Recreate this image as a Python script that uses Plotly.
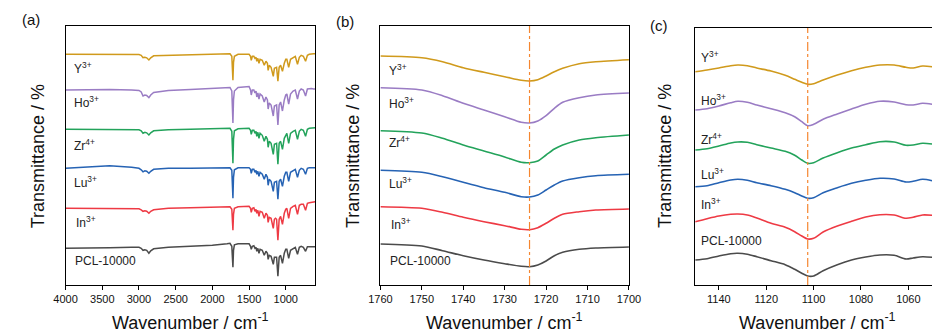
import plotly.graph_objects as go

W, H = 946, 332

names = ["Y<sup>3+</sup>", "Ho<sup>3+</sup>", "Zr<sup>4+</sup>", "Lu<sup>3+</sup>", "In<sup>3+</sup>", "PCL-10000"]
colors = ["#D09A1C", "#9A7CC4", "#23A35B", "#2663B4", "#EE3A44", "#4B4B4B"]

# ---------------- panel (a): full spectra (relative transmittance, arbitrary units) ----------------
wn_a = [4000, 3700, 3400, 3100, 3000, 2970, 2945, 2920, 2895, 2865, 2840, 2800, 2600, 2300, 2000,
        1800, 1760, 1735, 1725, 1720, 1712, 1700, 1650, 1550, 1500, 1480, 1470, 1455, 1435, 1420,
        1405, 1395, 1380, 1365, 1350, 1320, 1293, 1270, 1250, 1240, 1225, 1200, 1185, 1170, 1155,
        1140, 1125, 1107, 1090, 1070, 1045, 1020, 1000, 985, 960, 935, 900, 870, 840, 815,
        790, 760, 730, 705, 680, 650, 620, 600]

a_Y = [0, 0, 0, 0, -0.3, -1, -3.3, -3, -3.5, -5.7, -3.5, -1.5, -1, -0.5, 0,
       0.5, 0.5, -2, -18, -26, -8, -2, 0, 0.5, 0, -2, -6, -2, -2, -4,
       -3, -7, -4, -9, -5, -6, -11, -7, -9, -16, -11, -13, -18, -22, -14,
       -13, -13, -27, -13, -11, -17, -9, -5, -5, -13, -5, -3, -2, -10, -3,
       -1, -2, -7, -1, 0, 0.5, 0.5, 0.5]
a_Ho = [0, 0.5, 0.5, 0, -0.5, -2, -6, -5, -5.5, -7.7, -5, -2.5, -0.5, 0.5, 1.5,
        2.5, 2.5, -1, -22, -33, -10, -1, 2.5, 3.5, 3.5, 0, -5, 0, 0, -3,
        -1, -7, -3, -9, -4, -6, -12, -7, -10, -19, -13, -15, -21, -26, -16,
        -15, -15, -35, -15, -12, -21, -10, -5, -4, -14, -4, -1, 0, -9, -1,
        1, 0, -6, 1, 1.5, 1.5, 1, 1]
a_Zr = [0, 0, 0, 0, -0.5, -1.5, -4, -3, -3.5, -5.7, -3.5, -1.5, -0.5, 0, 0.5,
        1, 1, -2, -23, -34, -10, -1.5, 0.5, 1, 1, -1, -5, -1, -1, -4,
        -2, -7, -3, -9, -4, -6, -12, -7, -10, -18, -12, -14, -20, -25, -15,
        -14, -14, -35, -14, -12, -20, -9, -5, -4, -14, -4, -2, -1, -10, -2,
        0, -1, -7, 0, 1, 1, 1.5, 1.5]
a_Lu = [0, 1.5, 2.5, 1, 0, -1.5, -3.5, -2.5, -3, -5, -3, -1, 0, 0, 0,
        0.5, 0.5, -2, -20, -30, -9, -1.5, 0.5, 0.5, 0.5, -1, -5, -1, -1, -4,
        -2, -6, -3, -8, -4, -6, -11, -6, -9, -17, -11, -13, -18, -23, -14,
        -13, -13, -31, -13, -11, -18, -8, -4, -4, -13, -4, -2, -1, -9, -2,
        0, -1, -6, 0, 0.5, 0.5, 0.5, 0.5]
a_In = [0, 0, 0, 0, -0.5, -1.5, -3, -2.5, -3, -5, -3, -1.5, 0, 0.5, 1,
        1.5, 1.5, -1, -15, -22, -6, 0, 1.5, 2, 2, 0, -4, 0, 0.5, -3,
        -1, -5, -2, -8, -3, -4, -10, -5, -7, -14, -9, -10, -15, -20, -11,
        -10, -11, -32, -11, -8, -16, -5, -1, 0, -10, 0, 2, 3, -6, 3,
        4, 4, -2, 5, 5.5, 6, 6.5, 6.5]
a_PCL = [0, 0, 0.5, 1, 1, 0, -2, -1.5, -2, -5, -2.5, -0.5, 1, 2, 3,
         4.5, 5, 2, -12, -19, -2, 3.5, 4.5, 4.5, 4.5, 2, -1, 2, 2.5, 0,
         1, -3, 0, -5, -1, -2, -7, -3, -5, -11, -7, -8, -12, -16, -9,
         -9, -9, -28, -9, -7, -15, -5, -1, -1, -10, -2, 0, 1, -6, 1,
         2, 1, -3, 1.5, 1.5, 1.5, 1.5, 1.5]
series_a = [a_Y, a_Ho, a_Zr, a_Lu, a_In, a_PCL]
stack_offset_a = [230.7, 195.0, 155.7, 116.7, 76.7, 36.7]

# ---------------- panel (b): C=O band ----------------
wn_b = [1760, 1750, 1745, 1740, 1735, 1730, 1726, 1724, 1722, 1720, 1718, 1716, 1712, 1708, 1700]
b_Y = [229.0, 227.3, 223.3, 217.3, 212.7, 208.3, 204.7, 204.0, 205.3, 209.0, 213.3, 216.7, 221.3, 223.3, 225.3]
b_Ho = [197.3, 195.0, 189.3, 181.7, 175.0, 168.3, 162.7, 162.0, 164.0, 169.3, 176.7, 182.7, 187.3, 190.0, 192.0]
b_Zr = [154.3, 152.0, 146.7, 140.0, 134.0, 128.0, 122.7, 122.3, 124.0, 130.0, 136.0, 140.0, 145.0, 147.3, 150.0]
b_Lu = [114.7, 112.7, 108.3, 102.7, 97.3, 92.7, 88.3, 88.0, 90.0, 95.0, 100.0, 104.0, 107.3, 109.3, 110.7]
b_In = [78.3, 76.7, 72.7, 67.7, 63.3, 59.3, 55.7, 55.3, 57.3, 61.7, 66.7, 70.7, 73.3, 75.0, 76.0]
b_PCL = [41.0, 39.0, 34.3, 29.3, 25.0, 21.3, 18.7, 18.3, 20.0, 24.0, 29.3, 32.7, 35.7, 37.0, 38.0]
series_b = [b_Y, b_Ho, b_Zr, b_Lu, b_In, b_PCL]
marker_b = 1724

# ---------------- panel (c): C-O-C band ----------------
wn_c = [1150, 1145, 1140, 1135, 1132, 1128, 1124, 1118, 1112, 1108, 1105, 1102.5, 1100, 1096,
        1090, 1084, 1078, 1072, 1066, 1061, 1058, 1054, 1050]
c_Y = [213.3, 215.0, 217.0, 219.3, 220.0, 219.3, 217.0, 214.0, 209.7, 205.7, 202.7, 200.7, 201.3, 205.0,
       210.0, 214.3, 217.7, 220.0, 220.0, 217.7, 217.0, 219.0, 218.3]
c_Ho = [175.0, 176.3, 179.0, 182.3, 183.7, 182.7, 180.0, 176.3, 172.3, 168.3, 163.3, 159.3, 160.7, 165.7,
        171.0, 176.0, 180.7, 183.7, 183.0, 180.3, 180.0, 181.7, 180.7]
c_Zr = [135.0, 136.3, 139.0, 142.0, 143.0, 142.7, 140.3, 137.0, 133.7, 129.7, 125.0, 121.7, 122.3, 127.0,
        132.3, 137.0, 140.3, 143.3, 143.0, 139.7, 140.0, 141.7, 141.0]
c_Lu = [98.3, 99.3, 102.3, 105.0, 105.7, 104.7, 102.3, 99.3, 95.7, 92.3, 89.0, 86.7, 87.3, 92.3,
        97.3, 101.7, 104.7, 106.7, 106.0, 103.0, 103.7, 105.7, 104.3]
c_In = [63.3, 66.3, 69.0, 70.7, 71.0, 70.0, 67.0, 61.7, 57.7, 53.3, 49.0, 46.0, 46.7, 53.0,
        59.0, 63.7, 68.0, 70.3, 70.0, 66.7, 67.7, 70.0, 69.7]
c_PCL = [25.0, 26.3, 29.0, 31.3, 31.7, 30.7, 28.3, 24.3, 20.3, 15.7, 11.7, 9.0, 9.0, 14.3,
         20.3, 25.0, 28.0, 30.0, 29.7, 26.0, 27.0, 28.3, 27.7]
series_c = [c_Y, c_Ho, c_Zr, c_Lu, c_In, c_PCL]
marker_c = 1102.5

# ---------------- layout helpers (pixel -> paper) ----------------
def fx(p):
    return p / W

def fy(p):
    return 1 - p / H

FONT = "Arial, Liberation Sans, sans-serif"
fig = go.Figure()

for i in range(6):
    fig.add_trace(go.Scatter(x=wn_a, y=[v + stack_offset_a[i] for v in series_a[i]],
                             mode="lines", line=dict(color=colors[i], width=1.5),
                             xaxis="x", yaxis="y", showlegend=False, hoverinfo="skip"))
for i in range(6):
    fig.add_trace(go.Scatter(x=wn_b, y=series_b[i], mode="lines",
                             line=dict(color=colors[i], width=1.6, shape="spline", smoothing=0.8),
                             xaxis="x2", yaxis="y2", showlegend=False, hoverinfo="skip"))
for i in range(6):
    fig.add_trace(go.Scatter(x=wn_c, y=series_c[i], mode="lines",
                             line=dict(color=colors[i], width=1.6, shape="spline", smoothing=0.8),
                             xaxis="x3", yaxis="y3", showlegend=False, hoverinfo="skip"))

# vertical dash-dot reference lines
for xr, yr, xv in [("x2", "y2 domain", marker_b), ("x3", "y3 domain", marker_c)]:
    fig.add_shape(type="line", xref=xr, yref=yr, x0=xv, x1=xv, y0=0, y1=1,
                  line=dict(color="#F5862F", width=1.2, dash="dashdot"))

axis_common = dict(showline=True, linecolor="black", linewidth=1.3, showgrid=False, zeroline=False,
                   ticks="outside", ticklen=4, tickwidth=1.2, tickcolor="black",
                   tickfont=dict(family=FONT, size=11, color="#111"))
yaxis_common = dict(showline=True, linecolor="black", linewidth=1.3, showgrid=False, zeroline=False,
                    showticklabels=False, ticks="")

fig.update_layout(
    width=W, height=H, margin=dict(l=0, r=0, t=0, b=0),
    paper_bgcolor="white", plot_bgcolor="white",
    font=dict(family=FONT, size=12, color="#111"),
    xaxis=dict(axis_common, domain=[fx(55), fx(311)], range=[4000, 600], tick0=0, dtick=500,
               mirror=True, anchor="y"),
    yaxis=dict(yaxis_common, domain=[fy(285), fy(26)], range=[0, 259], mirror=True, anchor="x"),
    xaxis2=dict(axis_common, domain=[fx(378), fx(633)], range=[1760, 1700], tick0=0, dtick=10,
                mirror=True, anchor="y2"),
    yaxis2=dict(yaxis_common, domain=[fy(285), fy(26)], range=[0, 259], mirror=True, anchor="x2"),
    xaxis3=dict(axis_common, domain=[fx(701), fx(944)], range=[1150, 1050], tick0=0, dtick=20,
                mirror=True, anchor="y3"),
    yaxis3=dict(yaxis_common, domain=[fy(285), fy(28)], range=[0, 257], mirror=False, anchor="x3"),
)

ann = []
# panel letters
for txt, x, y in [("(a)", 8, 20), ("(b)", 330, 21), ("(c)", 653, 25)]:
    ann.append(dict(text=txt, x=fx(x), y=fy(y), xref="paper", yref="paper", xanchor="left",
                    yanchor="middle", showarrow=False, font=dict(family=FONT, size=15, color="#111")))
# axis titles
for xc in [183, 505.5, 826]:
    ann.append(dict(text="Wavenumber / cm<sup>-1</sup>", x=fx(xc), y=fy(321), xref="paper", yref="paper",
                    xanchor="center", yanchor="middle", showarrow=False,
                    font=dict(family=FONT, size=18, color="#111")))
for xc in [27, 350, 670]:
    ann.append(dict(text="Transmittance / %", x=fx(xc), y=fy(156), xref="paper", yref="paper",
                    xanchor="center", yanchor="middle", textangle=-90, showarrow=False,
                    font=dict(family=FONT, size=18, color="#111")))
# series labels
label_pos = {
    "a": [(62, 68), (62, 102), (62, 145), (62, 182), (64, 222), (63, 261)],
    "b": [(385, 70), (385, 103), (385, 142), (385, 183), (387, 224), (386, 261)],
    "c": [(705, 57), (705, 100), (705, 139), (705, 174), (705, 204), (705, 241)],
}
for key in ["a", "b", "c"]:
    for i, (x, y) in enumerate(label_pos[key]):
        ann.append(dict(text=names[i], x=fx(x), y=fy(y), xref="paper", yref="paper",
                        xanchor="left", yanchor="middle", showarrow=False,
                        font=dict(family=FONT, size=12, color="#222")))
fig.update_layout(annotations=ann)

fig.write_html("out.html", config={"displayModeBar": False},
               post_script="document.body.style.margin='0';document.body.style.padding='0';"
                           "document.body.style.overflow='hidden';")
